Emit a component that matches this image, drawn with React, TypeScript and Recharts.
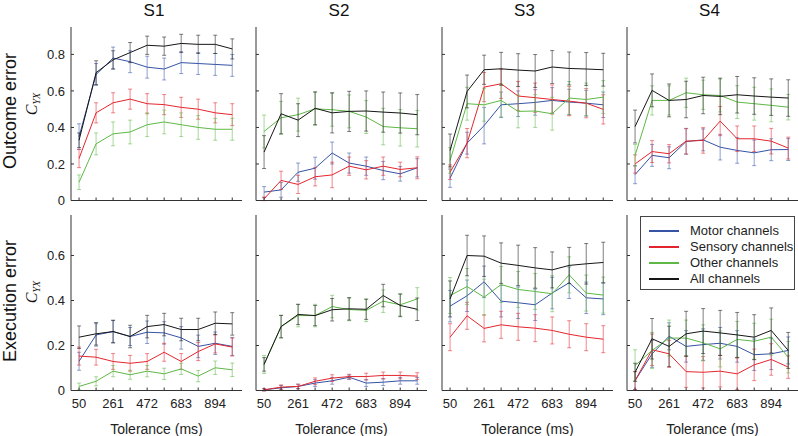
import { LineChart, Line, XAxis, YAxis, ErrorBar } from "recharts";

const tolerance = [50, 155.5, 261, 366.5, 472, 577.5, 683, 788.5, 894, 999.5];
const labelledTolerance = [50, 261, 472, 683, 894];
const subjects = ["S1", "S2", "S3", "S4"];

// outcome error, one row per subject (S1..S4)
const outcomeMotor = [
  [0.35, 0.69, 0.78, 0.76, 0.73, 0.72, 0.755, 0.75, 0.745, 0.74],
  [0.046, 0.058, 0.155, 0.177, 0.26, 0.205, 0.188, 0.164, 0.146, 0.179],
  [0.122, 0.314, 0.41, 0.524, 0.53, 0.537, 0.548, 0.539, 0.533, 0.524],
  [0.142, 0.247, 0.234, 0.323, 0.332, 0.292, 0.274, 0.261, 0.278, 0.279],
];
const outcomeMotorErr = [
  [0.07, 0.06, 0.06, 0.06, 0.06, 0.06, 0.06, 0.06, 0.06, 0.06],
  [0.03, 0.04, 0.05, 0.06, 0.06, 0.055, 0.05, 0.05, 0.04, 0.05],
  [0.05, 0.06, 0.1, 0.07, 0.07, 0.07, 0.07, 0.07, 0.07, 0.07],
  [0.05, 0.06, 0.06, 0.07, 0.06, 0.07, 0.07, 0.07, 0.06, 0.06],
];
const outcomeSensory = [
  [0.23, 0.48, 0.535, 0.555, 0.53, 0.525, 0.51, 0.5, 0.48, 0.47],
  [0.009, 0.11, 0.088, 0.13, 0.14, 0.188, 0.168, 0.188, 0.17, 0.179],
  [0.155, 0.314, 0.621, 0.639, 0.572, 0.563, 0.553, 0.544, 0.533, 0.499],
  [0.2, 0.268, 0.256, 0.325, 0.329, 0.435, 0.338, 0.338, 0.325, 0.287],
];
const outcomeSensoryErr = [
  [0.05, 0.055, 0.055, 0.055, 0.055, 0.055, 0.055, 0.055, 0.055, 0.06],
  [0.01, 0.05, 0.05, 0.05, 0.07, 0.05, 0.05, 0.05, 0.04, 0.06],
  [0.04, 0.08, 0.08, 0.08, 0.08, 0.08, 0.08, 0.08, 0.08, 0.08],
  [0.05, 0.06, 0.05, 0.07, 0.07, 0.08, 0.07, 0.07, 0.07, 0.06],
];
const outcomeOther = [
  [0.1, 0.31, 0.365, 0.375, 0.415, 0.43, 0.415, 0.4, 0.39, 0.39],
  [0.378, 0.453, 0.47, 0.502, 0.497, 0.488, 0.457, 0.405, 0.398, 0.393],
  [0.219, 0.53, 0.524, 0.548, 0.488, 0.49, 0.475, 0.561, 0.553, 0.566],
  [0.247, 0.548, 0.548, 0.59, 0.579, 0.575, 0.539, 0.53, 0.521, 0.511],
];
const outcomeOtherErr = [
  [0.04, 0.06, 0.065, 0.065, 0.065, 0.065, 0.065, 0.065, 0.06, 0.06],
  [0.09, 0.09, 0.09, 0.09, 0.09, 0.09, 0.09, 0.1, 0.1, 0.1],
  [0.07, 0.09, 0.09, 0.09, 0.09, 0.09, 0.09, 0.09, 0.09, 0.09],
  [0.06, 0.08, 0.08, 0.08, 0.08, 0.09, 0.09, 0.09, 0.09, 0.07],
];
const outcomeAll = [
  [0.33, 0.7, 0.77, 0.81, 0.85, 0.845, 0.86, 0.855, 0.855, 0.83],
  [0.265, 0.475, 0.44, 0.505, 0.48, 0.488, 0.49, 0.484, 0.479, 0.47],
  [0.274, 0.597, 0.716, 0.721, 0.714, 0.709, 0.731, 0.723, 0.72, 0.716],
  [0.405, 0.603, 0.548, 0.553, 0.575, 0.57, 0.579, 0.572, 0.566, 0.561],
];
const outcomeAllErr = [
  [0.04, 0.065, 0.05, 0.055, 0.05, 0.05, 0.05, 0.05, 0.05, 0.055],
  [0.09, 0.11, 0.09, 0.09, 0.11, 0.11, 0.11, 0.11, 0.11, 0.11],
  [0.09, 0.09, 0.08, 0.09, 0.09, 0.09, 0.09, 0.09, 0.09, 0.09],
  [0.09, 0.09, 0.09, 0.1, 0.1, 0.1, 0.1, 0.1, 0.1, 0.1],
];

// execution error
const executionMotor = [
  [0.13, 0.247, 0.262, 0.24, 0.259, 0.256, 0.234, 0.196, 0.21, 0.196],
  [0.003, 0.012, 0.018, 0.033, 0.043, 0.059, 0.033, 0.037, 0.043, 0.043],
  [0.375, 0.421, 0.483, 0.397, 0.39, 0.381, 0.433, 0.479, 0.412, 0.407],
  [0.044, 0.163, 0.241, 0.196, 0.204, 0.21, 0.196, 0.159, 0.163, 0.178],
];
const executionMotorErr = [
  [0.04, 0.05, 0.05, 0.04, 0.05, 0.05, 0.05, 0.05, 0.05, 0.04],
  [0.005, 0.01, 0.01, 0.015, 0.015, 0.01, 0.015, 0.015, 0.015, 0.015],
  [0.07, 0.07, 0.07, 0.07, 0.07, 0.07, 0.07, 0.07, 0.07, 0.07],
  [0.04, 0.06, 0.06, 0.07, 0.07, 0.07, 0.07, 0.07, 0.07, 0.06],
];
const executionSensory = [
  [0.153, 0.148, 0.129, 0.121, 0.129, 0.17, 0.129, 0.173, 0.207, 0.193],
  [0.003, 0.015, 0.018, 0.041, 0.055, 0.062, 0.062, 0.067, 0.067, 0.064],
  [0.237, 0.332, 0.276, 0.292, 0.283, 0.277, 0.267, 0.25, 0.237, 0.228],
  [0.044, 0.181, 0.163, 0.084, 0.081, 0.086, 0.074, 0.114, 0.138, 0.104],
];
const executionSensoryErr = [
  [0.04, 0.035, 0.035, 0.035, 0.035, 0.04, 0.035, 0.04, 0.04, 0.04],
  [0.005, 0.01, 0.01, 0.015, 0.015, 0.01, 0.015, 0.015, 0.015, 0.015],
  [0.06, 0.06, 0.06, 0.06, 0.06, 0.06, 0.06, 0.06, 0.06, 0.06],
  [0.04, 0.07, 0.06, 0.07, 0.07, 0.07, 0.07, 0.07, 0.07, 0.05],
];
const executionOther = [
  [0.018, 0.041, 0.086, 0.07, 0.086, 0.074, 0.096, 0.064, 0.101, 0.092],
  [0.116, 0.284, 0.333, 0.333, 0.373, 0.36, 0.356, 0.397, 0.381, 0.407],
  [0.422, 0.462, 0.415, 0.471, 0.449, 0.44, 0.43, 0.514, 0.433, 0.424],
  [0.111, 0.178, 0.233, 0.233, 0.212, 0.185, 0.227, 0.219, 0.237, 0.148],
];
const executionOtherErr = [
  [0.015, 0.02, 0.025, 0.02, 0.025, 0.025, 0.025, 0.025, 0.03, 0.03],
  [0.04, 0.05, 0.05, 0.05, 0.05, 0.05, 0.05, 0.05, 0.05, 0.05],
  [0.08, 0.08, 0.08, 0.08, 0.08, 0.08, 0.08, 0.08, 0.08, 0.08],
  [0.07, 0.08, 0.08, 0.08, 0.08, 0.08, 0.08, 0.08, 0.08, 0.07],
];
const executionAll = [
  [0.237, 0.252, 0.262, 0.24, 0.284, 0.293, 0.271, 0.271, 0.299, 0.296],
  [0.116, 0.284, 0.338, 0.333, 0.359, 0.363, 0.361, 0.422, 0.378, 0.361],
  [0.407, 0.6, 0.597, 0.566, 0.556, 0.545, 0.536, 0.556, 0.563, 0.569],
  [0.081, 0.23, 0.196, 0.252, 0.264, 0.256, 0.247, 0.237, 0.267, 0.178],
];
const executionAllErr = [
  [0.05, 0.05, 0.05, 0.05, 0.05, 0.05, 0.05, 0.05, 0.05, 0.05],
  [0.03, 0.05, 0.045, 0.045, 0.05, 0.05, 0.045, 0.05, 0.05, 0.05],
  [0.08, 0.09, 0.09, 0.09, 0.09, 0.09, 0.08, 0.08, 0.09, 0.09],
  [0.04, 0.09, 0.09, 0.1, 0.1, 0.1, 0.1, 0.1, 0.1, 0.08],
];

const series = [
  { key: "motor", name: "Motor channels", color: "#3653a5" },
  { key: "sensory", name: "Sensory channels", color: "#e3262d" },
  { key: "other", name: "Other channels", color: "#5fb846" },
  { key: "all", name: "All channels", color: "#161616" },
];

const rows = [
  {
    label: "Outcome error",
    values: [outcomeMotor, outcomeSensory, outcomeOther, outcomeAll],
    errors: [outcomeMotorErr, outcomeSensoryErr, outcomeOtherErr, outcomeAllErr],
    yMax: 0.95,
    yTicks: [0, 0.2, 0.4, 0.6, 0.8],
    plotTop: 26.5,
    plotH: 173.5,
    showX: false,
  },
  {
    label: "Execution error",
    values: [executionMotor, executionSensory, executionOther, executionAll],
    errors: [executionMotorErr, executionSensoryErr, executionOtherErr, executionAllErr],
    yMax: 0.78,
    yTicks: [0, 0.2, 0.4, 0.6],
    plotTop: 214.5,
    plotH: 175.5,
    showX: true,
  },
];

const panelLeft = [71, 256, 441.5, 626.5];
const PLOT_W = 171;
const Y_W = 45;
const FONT = '"Liberation Sans", Arial, Helvetica, sans-serif';

function LegendBox() {
  return (
    <div
      style={{
        position: "absolute",
        left: 640,
        top: 216,
        width: 155,
        height: 74,
        boxSizing: "border-box",
        border: "1px solid #444",
        background: "#fff",
        paddingTop: 6,
        color: "#222",
      }}
    >
      {series.map((s) => (
        <div key={s.key} style={{ display: "flex", alignItems: "center", height: 16 }}>
          <span style={{ display: "inline-block", flex: "none", marginLeft: 8, width: 30, height: 1.5, background: s.color }} />
          <span style={{ marginLeft: 11, fontSize: 13, lineHeight: "16px", whiteSpace: "nowrap" }}>
            {s.name}
          </span>
        </div>
      ))}
    </div>
  );
}

function Panel({ r, s }: { r: number; s: number }) {
  const row = rows[r];
  const data = tolerance.map((x, i) => {
    const d: Record<string, number> = { x };
    series.forEach((ser, k) => {
      d[ser.key] = row.values[k][s][i];
      d[ser.key + "Err"] = row.errors[k][s][i];
    });
    return d;
  });
  const xAxisH = row.showX ? 43 : 10;
  const bottomPad = row.showX ? 6 : 0;

  return (
    <div style={{ position: "absolute", left: panelLeft[s] - Y_W, top: row.plotTop - 5 }}>
      <LineChart
        width={Y_W + PLOT_W + 6}
        height={5 + row.plotH + xAxisH + bottomPad}
        data={data}
        margin={{ top: 5, right: 6, left: 0, bottom: bottomPad }}
      >
        <XAxis
          dataKey="x"
          type="number"
          domain={[0, 1060]}
          ticks={tolerance}
          interval={0}
          allowDataOverflow
          height={xAxisH}
          tickSize={-3}
          tickMargin={11}
          stroke="#333"
          tick={{ fontSize: 13, fill: "#222" }}
          tickFormatter={(v: number) =>
            row.showX && labelledTolerance.includes(v) ? String(v) : ""
          }
          label={
            row.showX
              ? { value: "Tolerance (ms)", position: "insideBottom", offset: 0, fontSize: 14, fill: "#222" }
              : undefined
          }
        />
        <YAxis
          type="number"
          domain={[0, row.yMax]}
          ticks={row.yTicks}
          interval={0}
          allowDataOverflow
          width={Y_W}
          tickSize={-3}
          tickMargin={9}
          stroke="#333"
          tick={{ fontSize: 13, fill: "#222" }}
          tickFormatter={(v: number) => (s === 0 ? (v === 0 ? "0" : v.toFixed(1)) : "")}
        />
        {series.map((ser) => (
          <Line
            key={ser.key}
            dataKey={ser.key}
            stroke={ser.color}
            strokeWidth={1}
            dot={false}
            isAnimationActive={false}
          >
            <ErrorBar
              dataKey={ser.key + "Err"}
              direction="y"
              width={2}
              stroke={ser.color}
              strokeOpacity={0.55}
              strokeWidth={1}
              isAnimationActive={false}
            />
          </Line>
        ))}
      </LineChart>
    </div>
  );
}

export default function App() {
  return (
    <div
      style={{
        position: "absolute",
        left: 0,
        top: 0,
        width: 798,
        height: 436,
        background: "#fff",
        fontFamily: FONT,
        overflow: "hidden",
      }}
    >
      <svg width={798} height={436} style={{ position: "absolute", left: 0, top: 0 }}>
        {subjects.map((name, s) => (
          <text key={name} x={panelLeft[s] + 83} y={15.5} textAnchor="middle" fontSize={17} fill="#111">
            {name}
          </text>
        ))}
        <text transform="translate(15.5,111) rotate(-90)" textAnchor="middle" fontSize={18} fill="#111">
          {rows[0].label}
        </text>
        <text transform="translate(15.5,301) rotate(-90)" textAnchor="middle" fontSize={18} fill="#111">
          {rows[1].label}
        </text>
        {[104, 292].map((cy) => (
          <text
            key={cy}
            transform={`translate(37,${cy}) rotate(-90)`}
            textAnchor="middle"
            fontFamily='"Liberation Serif", "DejaVu Serif", serif'
            fontStyle="italic"
            fill="#111"
          >
            <tspan fontSize={16}>C</tspan>
            <tspan fontSize={10} dy={3}>
              YX
            </tspan>
          </text>
        ))}
      </svg>
      {rows.map((_, r) => subjects.map((_, s) => <Panel key={`${r}-${s}`} r={r} s={s} />))}
      <LegendBox />
    </div>
  );
}
